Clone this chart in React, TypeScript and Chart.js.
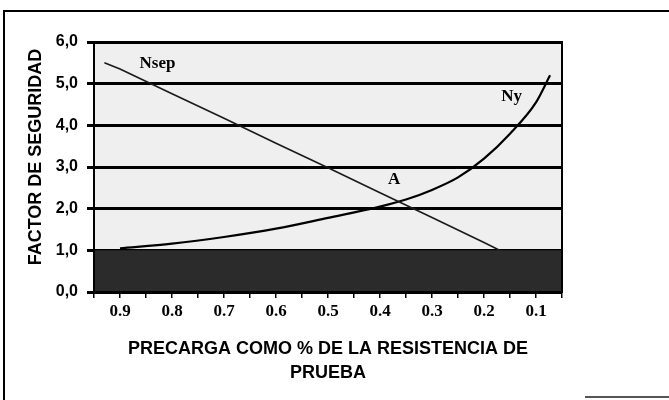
import React, { useEffect, useRef } from "react";
import { Chart, registerables } from "chart.js";

Chart.register(...registerables);

// Precarga (fraction of proof strength) and safety factors
const nsepX = [0.93, 0.9, 0.8, 0.7, 0.6, 0.5, 0.4, 0.3, 0.2, 0.17];
const nsepY = [5.5, 5.35, 4.76, 4.17, 3.57, 2.98, 2.38, 1.79, 1.19, 1.0];

const nyX = [0.9, 0.8, 0.7, 0.6, 0.5, 0.4, 0.35, 0.3, 0.25, 0.2, 0.15, 0.1, 0.073];
const nyY = [1.05, 1.16, 1.32, 1.52, 1.78, 2.05, 2.22, 2.45, 2.75, 3.2, 3.8, 4.55, 5.2];

// dark band: factor of safety below 1
const bandX = [0.95, 0.05];
const bandY = [1.0, 1.0];

const xTickValues = [0.9, 0.8, 0.7, 0.6, 0.5, 0.4, 0.3, 0.2, 0.1];
const xTickLabels = ["0.9", "0.8", "0.7", "0.6", "0.5", "0.4", "0.3", "0.2", "0.1"];
const yTickLabels = ["0,0", "1,0", "2,0", "3,0", "4,0", "5,0", "6,0"];

const annotTexts = ["Nsep", "Ny", "A"];
const annotX = [0.828, 0.147, 0.373];
const annotY = [5.47, 4.68, 2.69];

const yTitle = "FACTOR DE SEGURIDAD";
const xTitle = ["PRECARGA COMO % DE LA RESISTENCIA DE", "PRUEBA"];

const pts = (xs: number[], ys: number[]) => xs.map((x, i) => ({ x, y: ys[i] }));

const plotBg = {
  id: "plotBg",
  beforeDraw(chart: any) {
    const { ctx, chartArea: a } = chart;
    ctx.save();
    ctx.fillStyle = "#efefef";
    ctx.fillRect(a.left, a.top, a.right - a.left, a.bottom - a.top);
    ctx.restore();
  },
  afterDraw(chart: any) {
    const { ctx, chartArea: a, scales } = chart;
    ctx.save();
    ctx.strokeStyle = "#000";
    ctx.lineWidth = 2;
    ctx.strokeRect(a.left, a.top, a.right - a.left, a.bottom - a.top);
    ctx.fillStyle = "#000";
    ctx.textAlign = "center";
    ctx.textBaseline = "middle";
    ctx.font = "bold 17px 'Liberation Serif', serif";
    annotTexts.forEach((t, i) => {
      const px = scales.x.getPixelForValue(annotX[i]);
      const py = scales.y.getPixelForValue(annotY[i]);
      ctx.fillText(t, px, py);
    });
    // y axis title
    ctx.translate(36, (a.top + a.bottom) / 2 - 10);
    ctx.rotate(-Math.PI / 2);
    ctx.font = "bold 18px 'Liberation Sans Narrow', 'Liberation Sans', sans-serif";
    ctx.fillText(yTitle, 0, 0);
    ctx.restore();
  },
};

export default function App() {
  const ref = useRef<HTMLCanvasElement>(null);

  useEffect(() => {
    if (!ref.current) return;
    const chart = new Chart(ref.current, {
      type: "scatter",
      data: {
        datasets: [
          {
            data: pts(bandX, bandY),
            showLine: true,
            fill: "origin",
            backgroundColor: "#2b2b2b",
            borderWidth: 0,
            pointRadius: 0,
          },
          {
            data: pts(nsepX, nsepY),
            showLine: true,
            borderColor: "#1a1a1a",
            borderWidth: 1.6,
            pointRadius: 0,
            tension: 0,
          },
          {
            data: pts(nyX, nyY),
            showLine: true,
            borderColor: "#000",
            borderWidth: 2.2,
            pointRadius: 0,
            cubicInterpolationMode: "monotone",
          },
        ],
      } as any,
      options: {
        animation: false,
        responsive: false,
        devicePixelRatio: 1,
        layout: { padding: { left: 20, top: 42, right: 107, bottom: 0 } },
        plugins: { legend: { display: false }, tooltip: { enabled: false } },
        scales: {
          x: {
            type: "linear",
            reverse: true,
            min: 0.05,
            max: 0.95,
            z: 1,
            afterFit: (s: any) => {
              s.height = 108;
            },
            afterBuildTicks: (s: any) => {
              const arr = [];
              for (let k = 19; k >= 1; k--) arr.push({ value: Math.round(k * 5) / 100 });
              s.ticks = arr;
            },
            border: { display: true, color: "#000", width: 2 },
            grid: {
              drawOnChartArea: false,
              drawTicks: true,
              tickLength: 6,
              color: "#000",
              lineWidth: 1.5,
            },
            ticks: {
              autoSkip: false,
              maxRotation: 0,
              padding: 3,
              color: "#000",
              font: { family: "'Liberation Serif', serif", size: 17, weight: "bold" },
              callback: (v: any) => {
                const idx = xTickValues.findIndex((t) => Math.abs(t - Number(v)) < 1e-6);
                return idx >= 0 ? xTickLabels[idx] : "";
              },
            },
            title: {
              display: true,
              text: xTitle,
              color: "#000",
              padding: { top: 0, bottom: 15 },
              font: {
                family: "'Liberation Sans Narrow', 'Liberation Sans', sans-serif",
                size: 18,
                weight: "bold",
                lineHeight: "24px",
              },
            },
          },
          y: {
            min: 0,
            max: 6,
            z: 1,
            afterFit: (s: any) => {
              s.width = 74;
            },
            border: { display: true, color: "#000", width: 2 },
            grid: {
              color: "#000",
              lineWidth: 3,
              tickLength: 7,
            },
            ticks: {
              stepSize: 1,
              padding: 9,
              color: "#000",
              font: { family: "'Liberation Sans Narrow', 'Liberation Sans', sans-serif", size: 16, weight: "bold" },
              callback: (v: any) => yTickLabels[Math.round(Number(v))] ?? "",
            },
            title: { display: false },
          },
        },
      } as any,
      plugins: [plotBg],
    });
    return () => chart.destroy();
  }, []);

  return (
    <div style={{ position: "fixed", left: 0, top: 0, width: 669, height: 400, background: "#fff" }}>
      <div style={{ position: "absolute", left: 3, top: 10, right: 0, height: 0, borderTop: "2px solid #000" }} />
      <div style={{ position: "absolute", left: 3, top: 10, bottom: 0, width: 0, borderLeft: "2px solid #000" }} />
      <div style={{ position: "absolute", left: 585, top: 396, right: 0, height: 0, borderTop: "2px solid #555" }} />
      <canvas ref={ref} width={669} height={400} style={{ position: "absolute", left: 0, top: 0, display: "block" }} />
    </div>
  );
}
